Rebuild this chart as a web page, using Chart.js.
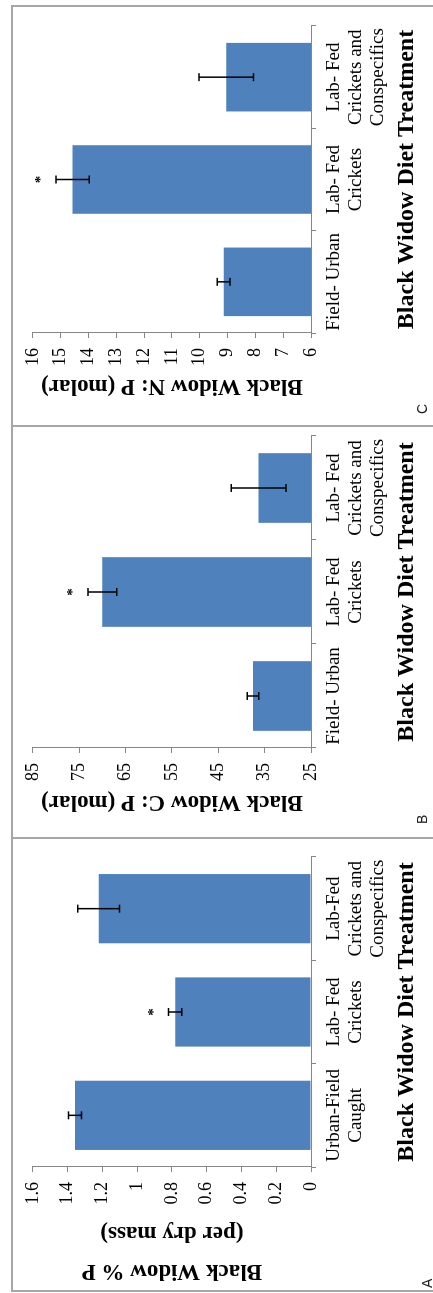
<!DOCTYPE html>
<html>
<head>
<meta charset="utf-8">
<script src="https://cdn.jsdelivr.net/npm/chart.js@4.4.1/dist/chart.umd.min.js"></script>
<style>
  html, body { margin: 0; padding: 0; background: #fff; width: 433px; height: 1293px; overflow: hidden; }
  /* The three-panel figure is laid out landscape, then turned a quarter turn counter-clockwise */
  #fig { position: absolute; left: 0; top: 0; width: 1293px; height: 433px; background: #fff;
         transform-origin: 0 0; transform: translate(0, 1293px) rotate(-90deg); }
  .frame { position: absolute; top: 11px; height: 450px; box-sizing: border-box;
           border: 2px solid #a6a6a6; border-bottom: none; }
  #fig canvas { position: absolute; }
  .tag { position: absolute; font: 14px "Liberation Sans", Arial, sans-serif; color: #1e1e1e; line-height: 14px; }
</style>
</head>
<body>
<div id="fig">
  <div class="frame" style="left:1px;width:455px"></div>
  <div class="frame" style="left:454px;width:414px"></div>
  <div class="frame" style="left:866px;width:422px"></div>
  <canvas id="chartA"></canvas>
  <canvas id="chartB"></canvas>
  <canvas id="chartC"></canvas>
  <div class="tag" style="left:5px;top:420px">A</div>
  <div class="tag" style="left:469px;top:415px">B</div>
  <div class="tag" style="left:879px;top:415px">C</div>
</div>
<script>
// ---- data ----
const categoriesA = [['Urban-Field', 'Caught'], ['Lab- Fed', 'Crickets'], ['Lab-Fed', 'Crickets and', 'Conspecifics']];
const categoriesBC = ['Field- Urban', ['Lab- Fed', 'Crickets'], ['Lab- Fed', 'Crickets and', 'Conspecifics']];

const percentP = [1.357, 0.781, 1.221];      // % P per dry mass
const percentPErr = [0.037, 0.038, 0.12];
const ratioCP = [37.5, 70.0, 36.3];           // C:P molar
const ratioCPErr = [1.25, 3.1, 5.9];
const ratioNP = [9.14, 14.57, 9.05];          // N:P molar
const ratioNPErr = [0.23, 0.60, 0.98];
const significance = ['', '*', ''];

const tickValuesA = [0, 0.2, 0.4, 0.6, 0.8, 1, 1.2, 1.4, 1.6];
const tickLabelsA = ['0', '0.2', '0.4', '0.6', '0.8', '1', '1.2', '1.4', '1.6'];
const tickValuesB = [25, 35, 45, 55, 65, 75, 85];
const tickLabelsB = ['25', '35', '45', '55', '65', '75', '85'];
const tickValuesC = [6, 7, 8, 9, 10, 11, 12, 13, 14, 15, 16];
const tickLabelsC = ['6', '7', '8', '9', '10', '11', '12', '13', '14', '15', '16'];

const xTitle = 'Black Widow Diet Treatment';
const yTitleA = ['Black Widow % P', '(per dry mass)'];
const yTitleB = 'Black Widow C: P (molar)';
const yTitleC = 'Black Widow N: P (molar)';

// ---- drawing ----
Chart.defaults.font.family = '"Liberation Serif", "Times New Roman", serif';
Chart.defaults.color = '#000';

const BAR = '#4f81bd';
const AXIS = '#868686';

// error whiskers and significance marks over each bar
const whiskers = {
  id: 'whiskers',
  afterDatasetsDraw(chart) {
    const ctx = chart.ctx;
    const y = chart.scales.y;
    const ds = chart.data.datasets[0];
    const meta = chart.getDatasetMeta(0);
    ctx.save();
    ctx.strokeStyle = '#000';
    ctx.lineWidth = 1.5;
    meta.data.forEach((bar, i) => {
      const v = ds.data[i], e = ds.errors[i];
      const hi = y.getPixelForValue(v + e);
      const lo = y.getPixelForValue(v - e);
      const x = bar.x;
      ctx.beginPath();
      ctx.moveTo(x, hi); ctx.lineTo(x, lo);
      ctx.moveTo(x - 4, hi); ctx.lineTo(x + 4, hi);
      ctx.moveTo(x - 4, lo); ctx.lineTo(x + 4, lo);
      ctx.stroke();
      if (ds.marks[i]) {
        ctx.fillStyle = '#000';
        ctx.font = 'bold 15px "Liberation Serif", serif';
        ctx.textAlign = 'center';
        ctx.textBaseline = 'alphabetic';
        ctx.fillText(ds.marks[i], x, hi - 11);
      }
    });
    ctx.restore();
  }
};

function panel(id, spec) {
  const canvas = document.getElementById(id);
  canvas.width = spec.width;
  canvas.height = 421;
  canvas.style.left = spec.left + 'px';
  canvas.style.top = '12px';
  return new Chart(canvas, {
    type: 'bar',
    data: {
      labels: spec.labels,
      datasets: [{
        data: spec.values,
        errors: spec.errors,
        marks: significance,
        backgroundColor: BAR,
        borderWidth: 0,
        barPercentage: 0.67,
        categoryPercentage: 1.0
      }]
    },
    options: {
      responsive: false,
      animation: false,
      devicePixelRatio: 1,
      layout: { padding: { top: 19, right: spec.padRight, left: 0, bottom: 0 } },
      plugins: { legend: { display: false }, tooltip: { enabled: false } },
      scales: {
        x: {
          type: 'category',
          offset: true,
          grid: { offset: true, drawOnChartArea: false, drawTicks: true, tickLength: 5, color: AXIS, lineWidth: 1 },
          border: { display: true, color: AXIS, width: 1 },
          ticks: { font: { size: 19, lineHeight: 1.15 }, padding: 7, maxRotation: 0, minRotation: 0, autoSkip: false, color: '#000' },
          title: { display: true, text: xTitle, color: '#000',
                   font: { size: 24, weight: 'bold', lineHeight: 1.2 }, padding: { top: 0, bottom: 12 } },
          afterFit(s) { s.height = 122; }
        },
        y: {
          min: spec.ticks[0],
          max: spec.ticks[spec.ticks.length - 1],
          grid: { drawOnChartArea: false, drawTicks: true, tickLength: 5, color: AXIS, lineWidth: 1 },
          border: { display: true, color: AXIS, width: 1 },
          ticks: { font: { size: 18 }, padding: 10, color: '#000',
                   callback: (v, i) => spec.tickLabels[i] },
          afterBuildTicks(s) { s.ticks = spec.ticks.map(v => ({ value: v })); },
          title: { display: true, text: spec.yTitle, color: '#000',
                   font: { size: 23, weight: 'bold', lineHeight: spec.titleLH }, padding: { top: spec.titlePad, bottom: 0 } },
          afterFit(s) { s.width = spec.axisWidth; }
        }
      }
    },
    plugins: [whiskers]
  });
}

panel('chartA', { left: 3, width: 452, padRight: 19, axisWidth: 123, titlePad: 0, titleLH: 1.65,
                  labels: categoriesA, values: percentP, errors: percentPErr,
                  ticks: tickValuesA, tickLabels: tickLabelsA, yTitle: yTitleA });
panel('chartB', { left: 456, width: 411, padRight: 10, axisWidth: 89, titlePad: 21, titleLH: 1.2,
                  labels: categoriesBC, values: ratioCP, errors: ratioCPErr,
                  ticks: tickValuesB, tickLabels: tickLabelsB, yTitle: yTitleB });
panel('chartC', { left: 868, width: 419, padRight: 20, axisWidth: 92, titlePad: 25, titleLH: 1.2,
                  labels: categoriesBC, values: ratioNP, errors: ratioNPErr,
                  ticks: tickValuesC, tickLabels: tickLabelsC, yTitle: yTitleC });
</script>
</body>
</html>
